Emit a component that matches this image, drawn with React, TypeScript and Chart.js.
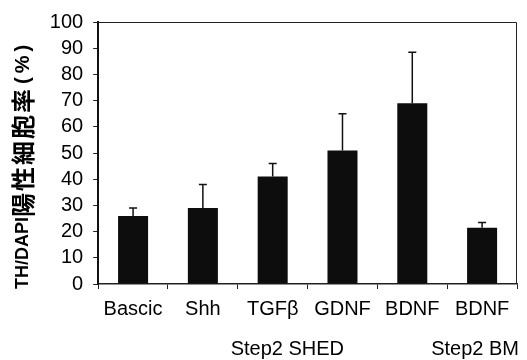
import React, { useEffect, useRef } from "react";
import { Chart, registerables } from "chart.js";

Chart.register(...registerables);

const categories = ["Bascic", "Shh", "TGFβ", "GDNF", "BDNF", "BDNF"];
const values = [26, 29, 41, 51, 69, 21.5];
const errors = [3, 9, 5, 14, 19.5, 2];
const groupLabels = ["Step2 SHED", "Step2 BM"];
const groupCenters = [2.21, 4.9];
const yTicks = [0, 10, 20, 30, 40, 50, 60, 70, 80, 90, 100];
const yTitle = "TH/DAPI陽性細胞率(%)";

const FONT = "'Liberation Sans', Arial, sans-serif";
const CJK = "'Noto Sans CJK JP', 'Noto Sans CJK SC', sans-serif";

const errorBarPlugin = {
  id: "errorBars",
  afterDatasetsDraw(chart: any) {
    const meta = chart.getDatasetMeta(0);
    const y = chart.scales.y;
    const ctx = chart.ctx;
    ctx.save();
    ctx.strokeStyle = "#111";
    ctx.lineWidth = 1.5;
    meta.data.forEach((bar: any, i: number) => {
      const top = y.getPixelForValue(values[i] + errors[i]);
      const base = y.getPixelForValue(values[i]);
      ctx.beginPath();
      ctx.moveTo(bar.x, base);
      ctx.lineTo(bar.x, top);
      ctx.moveTo(bar.x - 4, top);
      ctx.lineTo(bar.x + 4, top);
      ctx.stroke();
    });
    ctx.restore();
  },
};

const framePlugin = {
  id: "frame",
  afterDraw(chart: any) {
    const { ctx, chartArea } = chart;
    ctx.save();
    ctx.strokeStyle = "#222";
    ctx.lineWidth = 1;
    ctx.beginPath();
    ctx.moveTo(chartArea.left, chartArea.top + 0.5);
    ctx.lineTo(chartArea.right - 0.5, chartArea.top + 0.5);
    ctx.lineTo(chartArea.right - 0.5, chartArea.bottom);
    ctx.stroke();

    // group labels
    const x = chart.scales.x;
    ctx.fillStyle = "#000";
    ctx.font = `20px ${FONT}`;
    ctx.textAlign = "center";
    ctx.textBaseline = "middle";
    groupLabels.forEach((g, i) => {
      ctx.fillText(g, x.getPixelForValue(groupCenters[i]), chartArea.bottom + 65);
    });

    // y title (drawn in pieces: latin / CJK)
    const yScale = chart.scales.y;
    const cx = yScale.left + 11.4;
    const runs = yTitle.match(/[\u3000-\u9fff\uff00-\uffef]+|[^\u3000-\u9fff\uff00-\uffef]+/g) || [];
    ctx.translate(cx, chartArea.bottom + 5);
    ctx.rotate(-Math.PI / 2);
    ctx.textAlign = "left";
    ctx.textBaseline = "middle";
    let pos = 0;
    runs.forEach((r) => {
      const isCjk = /[\u3000-\u9fff]/.test(r);
      const isPct = r.indexOf("%") >= 0;
      ctx.font = isCjk ? `bold 24px ${CJK}` : isPct ? `bold 20px ${FONT}` : `bold 18px ${FONT}`;
      (ctx as any).letterSpacing = isCjk ? "2px" : isPct ? "4px" : "0px";
      ctx.fillText(r, isPct ? pos + 3 : pos, isCjk ? 0 : 1);
      pos += ctx.measureText(r).width;
    });
    (ctx as any).letterSpacing = "0px";
    ctx.restore();
  },
};

export default function App() {
  const ref = useRef<HTMLCanvasElement>(null);
  useEffect(() => {
    document.body.style.margin = "0";
    const chart = new Chart(ref.current!, {
      type: "bar",
      data: {
        labels: categories,
        datasets: [
          {
            data: values,
            backgroundColor: "#0d0d0d",
            borderWidth: 0,
            barPercentage: 0.43,
            categoryPercentage: 1,
          },
        ],
      },
      options: {
        animation: false,
        responsive: false,
        layout: { padding: { top: 3, right: 10, bottom: 31, left: 11 } },
        plugins: { legend: { display: false }, tooltip: { enabled: false } },
        scales: {
          x: {
            grid: {
              display: true,
              drawOnChartArea: false,
              tickLength: 5,
              color: "#222",
              offset: true,
            },
            border: { display: true, color: "#222", width: 1.5 },
            ticks: {
              color: "#000",
              font: { family: FONT, size: 20 },
              padding: 8,
              maxRotation: 0,
              autoSkip: false,
            },
          },
          y: {
            min: 0,
            max: 100,
            afterBuildTicks(axis: any) {
              axis.ticks = yTicks.map((v) => ({ value: v }));
            },
            grid: {
              display: true,
              drawOnChartArea: false,
              tickLength: 5,
              color: "#222",
            },
            border: { display: true, color: "#111", width: 2 },
            ticks: {
              color: "#000",
              font: { family: FONT, size: 20 },
              padding: 10,
              autoSkip: false,
            },
            title: {
              display: true,
              text: yTitle,
              color: "rgba(0,0,0,0)",
              font: { family: FONT, size: 19, weight: "bold" },
              padding: { top: 0, bottom: 6 },
            },
          },
        },
      },
      plugins: [errorBarPlugin, framePlugin],
    });
    return () => chart.destroy();
  }, []);
  return (
    <div style={{ width: 527, height: 360 }}>
      <canvas ref={ref} width={527} height={360} />
    </div>
  );
}
